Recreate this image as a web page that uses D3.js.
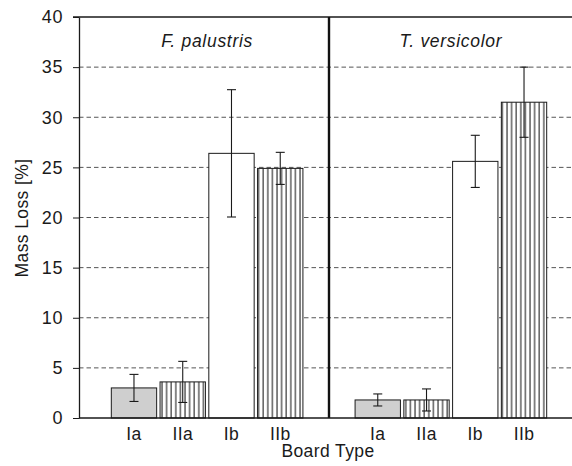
<!doctype html>
<html>
<head>
<meta charset="utf-8">
<title>Mass loss by board type</title>
<script src="https://d3js.org/d3.v7.min.js"></script>
<style>
  body { margin: 0; background: #fff; font-family: Arial, "Liberation Sans", Helvetica, sans-serif; }
  svg text { fill: #1a1a1a; }
</style>
</head>
<body>
<div id="plot"></div>
<script>
// data
const fungi = ["F. palustris", "T. versicolor"];
const boardTypes = ["Ia", "IIa", "Ib", "IIb"];
const massLoss = [
  [3.0, 3.6, 26.4, 24.9],   // F. palustris
  [1.8, 1.8, 25.6, 31.5]    // T. versicolor
];
const errLoss = [
  [1.35, 2.05, 6.35, 1.6],
  [0.6, 1.1, 2.6, 3.5]
];
const yTicks = [0, 5, 10, 15, 20, 25, 30, 35, 40];
const fills = { "Ia": "gray", "IIa": "stripes", "Ib": "white", "IIb": "stripes" };

const W = 572, H = 466;
const plot = { left: 79, top: 17, right: 572, bottom: 418 };

const svg = d3.select("#plot").append("svg")
  .attr("width", W).attr("height", H);

// stripes pattern
const defs = svg.append("defs");
const pat = defs.append("pattern")
  .attr("id", "stripes")
  .attr("patternUnits", "userSpaceOnUse")
  .attr("width", 4.6).attr("height", 10);
pat.append("rect").attr("width", 4.6).attr("height", 10).attr("fill", "#fff");
pat.append("line").attr("x1", 1).attr("x2", 1).attr("y1", 0).attr("y2", 10)
  .attr("stroke", "#222").attr("stroke-width", 1.1);

// flatten into slots: 4 bars, empty slot, 4 bars
const rows = [];
fungi.forEach(function(f, gi) {
  boardTypes.forEach(function(b, bi) {
    rows.push({ fungus: f, type: b, slot: gi * 5 + bi, v: massLoss[gi][bi], e: errLoss[gi][bi] });
  });
});

const x = d3.scaleBand()
  .domain(d3.range(9))
  .range([109.6, 548.4])
  .paddingInner(0.07)
  .paddingOuter(0.035);

const y = d3.scaleLinear()
  .domain([0, 40])
  .range([plot.bottom, plot.top]);

// dashed grid
svg.append("g")
  .selectAll("line")
  .data(yTicks.filter(function(t) { return t > 0 && t < 40; }))
  .enter().append("line")
    .attr("x1", plot.left).attr("x2", plot.right)
    .attr("y1", function(d) { return y(d); })
    .attr("y2", function(d) { return y(d); })
    .attr("stroke", "#555")
    .attr("stroke-width", 1)
    .attr("stroke-dasharray", "4.5,3");

// y axis
const yAxis = svg.append("g")
  .attr("transform", "translate(" + plot.left + ",0)")
  .call(d3.axisLeft(y).tickValues(yTicks).tickSize(6).tickPadding(10).tickSizeOuter(0));
yAxis.select(".domain").attr("stroke", "#1a1a1a").attr("stroke-width", 1.3);
yAxis.selectAll(".tick line").attr("stroke", "#1a1a1a");
yAxis.selectAll("text")
  .style("font-size", "18px")
  .style("letter-spacing", "0.6px")
  .style("font-family", "Arial, 'Liberation Sans', sans-serif");

// top border
svg.append("line")
  .attr("x1", plot.left - 6).attr("x2", plot.right)
  .attr("y1", plot.top).attr("y2", plot.top)
  .attr("stroke", "#1a1a1a").attr("stroke-width", 1.5);

// bars
svg.append("g")
  .selectAll("rect")
  .data(rows)
  .enter().append("rect")
    .attr("x", function(d) { return x(d.slot); })
    .attr("y", function(d) { return y(d.v); })
    .attr("width", x.bandwidth())
    .attr("height", function(d) { return y(0) - y(d.v); })
    .attr("fill", function(d) {
      const f = fills[d.type];
      if (f === "gray") return "#cfcfcf";
      if (f === "stripes") return "url(#stripes)";
      return "#fff";
    })
    .attr("stroke", "#1a1a1a")
    .attr("stroke-width", 1);

// error bars
const eb = svg.append("g").selectAll("g")
  .data(rows)
  .enter().append("g")
    .attr("transform", function(d) { return "translate(" + (x(d.slot) + x.bandwidth() / 2) + ",0)"; });
eb.append("line")
  .attr("y1", function(d) { return y(d.v + d.e); })
  .attr("y2", function(d) { return y(d.v - d.e); })
  .attr("stroke", "#1a1a1a").attr("stroke-width", 1.1);
eb.append("line")
  .attr("x1", -4.5).attr("x2", 4.5)
  .attr("y1", function(d) { return y(d.v + d.e); })
  .attr("y2", function(d) { return y(d.v + d.e); })
  .attr("stroke", "#1a1a1a").attr("stroke-width", 1.1);
eb.append("line")
  .attr("x1", -4.5).attr("x2", 4.5)
  .attr("y1", function(d) { return y(d.v - d.e); })
  .attr("y2", function(d) { return y(d.v - d.e); })
  .attr("stroke", "#1a1a1a").attr("stroke-width", 1.1);

// divider between fungi
const xDiv = x(4) + x.bandwidth() / 2;
svg.append("line")
  .attr("x1", xDiv).attr("x2", xDiv)
  .attr("y1", plot.top).attr("y2", plot.bottom)
  .attr("stroke", "#111").attr("stroke-width", 2.4);

// x axis line
svg.append("line")
  .attr("x1", plot.left).attr("x2", plot.right)
  .attr("y1", plot.bottom).attr("y2", plot.bottom)
  .attr("stroke", "#1a1a1a").attr("stroke-width", 1.3);

// category labels
svg.append("g").selectAll("text")
  .data(rows)
  .enter().append("text")
    .attr("x", function(d) { return x(d.slot) + x.bandwidth() / 2; })
    .attr("y", 439.5)
    .attr("text-anchor", "middle")
    .style("font-size", "17.5px")
    .style("letter-spacing", "0.4px")
    .text(function(d) { return d.type; });

// fungus titles
fungi.forEach(function(f, gi) {
  const cx = (x(gi * 5) + x(gi * 5 + 3) + x.bandwidth()) / 2;
  svg.append("text")
    .attr("x", cx)
    .attr("y", 47)
    .attr("text-anchor", "middle")
    .style("font-size", "17.5px")
    .style("letter-spacing", "0.7px")
    .style("font-style", "italic")
    .text(f);
});

// axis titles
svg.append("text")
  .attr("x", 328)
  .attr("y", 456.5)
  .attr("text-anchor", "middle")
  .style("font-size", "17.5px")
  .style("letter-spacing", "0.4px")
  .text("Board Type");

svg.append("text")
  .attr("transform", "translate(28,218) rotate(-90)")
  .attr("text-anchor", "middle")
  .style("font-size", "17.5px")
  .style("letter-spacing", "0.4px")
  .text("Mass Loss [%]");
</script>
</body>
</html>
